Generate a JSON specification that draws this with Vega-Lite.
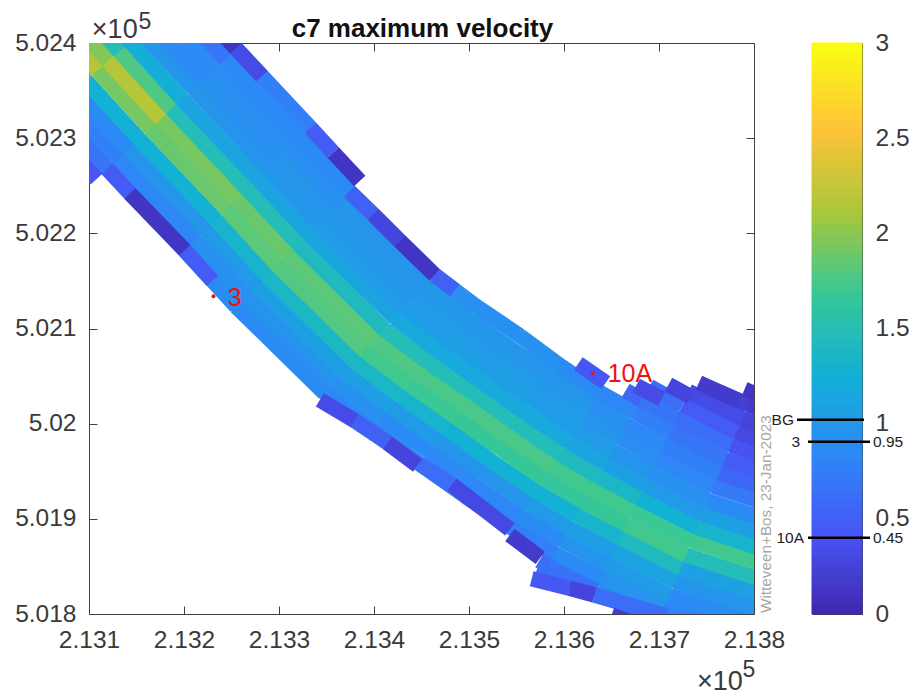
{"$schema":"https://vega.github.io/schema/vega-lite/v6.json","background":"white","padding":{"left":14,"top":10,"right":0,"bottom":0},"bounds":"flush","spacing":58,"config":{"font":"Liberation Sans","view":{"stroke":"#404040","strokeWidth":1},"axis":{"grid":false,"domain":false,"labelColor":"#3a3a3a","labelFontSize":24.5,"labelFont":"Liberation Sans","tickColor":"#404040","title":null,"labelFlush":false,"labelOverlap":false}},"datasets":{"cells":[
{"x":213050,"y":502415,"xe":213097,"ye":502360,"v":1.6},{"x":213062,"y":502426,"xe":213109,"ye":502371,"v":2.2},{"x":213073,"y":502436,"xe":213120,"ye":502381,"v":2.0},{"x":213085,"y":502446,"xe":213132,"ye":502391,"v":1.5},{"x":213096,"y":502457,"xe":213143,"ye":502402,"v":1.15},
{"x":213063,"y":502329,"xe":213119,"ye":502268,"v":0.7},{"x":213074,"y":502340,"xe":213131,"ye":502278,"v":0.8},{"x":213086,"y":502350,"xe":213142,"ye":502289,"v":0.9},{"x":213097,"y":502360,"xe":213153,"ye":502299,"v":1.3},{"x":213109,"y":502371,"xe":213165,"ye":502310,"v":1.95},{"x":213120,"y":502381,"xe":213176,"ye":502320,"v":2.2},{"x":213132,"y":502391,"xe":213187,"ye":502331,"v":1.8},{"x":213143,"y":502402,"xe":213198,"ye":502341,"v":1.25},{"x":213155,"y":502412,"xe":213210,"ye":502352,"v":1.0},{"x":213166,"y":502422,"xe":213221,"ye":502362,"v":0.9},{"x":213178,"y":502433,"xe":213232,"ye":502373,"v":0.88},{"x":213189,"y":502443,"xe":213244,"ye":502383,"v":0.72},{"x":213201,"y":502453,"xe":213255,"ye":502394,"v":0.15},
{"x":213119,"y":502268,"xe":213201,"ye":502182,"v":0.85},{"x":213131,"y":502278,"xe":213212,"ye":502192,"v":0.85},{"x":213142,"y":502289,"xe":213223,"ye":502203,"v":1.0},{"x":213153,"y":502299,"xe":213234,"ye":502214,"v":1.3},{"x":213165,"y":502310,"xe":213245,"ye":502225,"v":1.9},{"x":213176,"y":502320,"xe":213256,"ye":502236,"v":1.95},{"x":213187,"y":502331,"xe":213267,"ye":502246,"v":1.5},{"x":213198,"y":502341,"xe":213278,"ye":502257,"v":1.15},{"x":213210,"y":502352,"xe":213289,"ye":502268,"v":1.0},{"x":213221,"y":502362,"xe":213300,"ye":502279,"v":0.95},{"x":213232,"y":502373,"xe":213311,"ye":502290,"v":0.92},{"x":213244,"y":502383,"xe":213322,"ye":502300,"v":0.88},{"x":213255,"y":502394,"xe":213333,"ye":502311,"v":0.8},
{"x":213201,"y":502182,"xe":213255,"ye":502123,"v":0.9},{"x":213212,"y":502192,"xe":213266,"ye":502134,"v":0.95},{"x":213223,"y":502203,"xe":213277,"ye":502145,"v":1.05},{"x":213234,"y":502214,"xe":213287,"ye":502156,"v":1.35},{"x":213245,"y":502225,"xe":213298,"ye":502167,"v":1.85},{"x":213256,"y":502236,"xe":213309,"ye":502178,"v":1.9},{"x":213267,"y":502246,"xe":213320,"ye":502189,"v":1.5},{"x":213278,"y":502257,"xe":213331,"ye":502200,"v":1.15},{"x":213289,"y":502268,"xe":213341,"ye":502211,"v":1.02},{"x":213300,"y":502279,"xe":213352,"ye":502222,"v":1.0},{"x":213311,"y":502290,"xe":213363,"ye":502233,"v":0.95},{"x":213322,"y":502300,"xe":213374,"ye":502244,"v":0.9},
{"x":213255,"y":502123,"xe":213348,"ye":502032,"v":0.9},{"x":213266,"y":502134,"xe":213359,"ye":502043,"v":0.98},{"x":213277,"y":502145,"xe":213369,"ye":502054,"v":1.1},{"x":213287,"y":502156,"xe":213380,"ye":502065,"v":1.4},{"x":213298,"y":502167,"xe":213390,"ye":502077,"v":1.82},{"x":213309,"y":502178,"xe":213401,"ye":502088,"v":1.85},{"x":213320,"y":502189,"xe":213411,"ye":502099,"v":1.45},{"x":213331,"y":502200,"xe":213422,"ye":502111,"v":1.15},{"x":213341,"y":502211,"xe":213432,"ye":502122,"v":1.05},{"x":213352,"y":502222,"xe":213443,"ye":502133,"v":1.02},{"x":213363,"y":502233,"xe":213453,"ye":502145,"v":1.0},{"x":213374,"y":502244,"xe":213464,"ye":502156,"v":0.9},
{"x":213348,"y":502032,"xe":213398,"ye":501994,"v":0.85},{"x":213359,"y":502043,"xe":213408,"ye":502006,"v":0.95},{"x":213369,"y":502054,"xe":213418,"ye":502017,"v":1.1},{"x":213380,"y":502065,"xe":213428,"ye":502029,"v":1.4},{"x":213390,"y":502077,"xe":213438,"ye":502041,"v":1.75},{"x":213401,"y":502088,"xe":213448,"ye":502052,"v":1.8},{"x":213411,"y":502099,"xe":213458,"ye":502064,"v":1.5},{"x":213422,"y":502111,"xe":213468,"ye":502076,"v":1.2},{"x":213432,"y":502122,"xe":213478,"ye":502088,"v":1.08},{"x":213443,"y":502133,"xe":213488,"ye":502099,"v":1.05},{"x":213453,"y":502145,"xe":213498,"ye":502111,"v":1.02},{"x":213464,"y":502156,"xe":213508,"ye":502123,"v":0.95},
{"x":213398,"y":501994,"xe":213448,"ye":501958,"v":0.8},{"x":213408,"y":502006,"xe":213458,"ye":501971,"v":0.9},{"x":213418,"y":502017,"xe":213467,"ye":501983,"v":1.05},{"x":213428,"y":502029,"xe":213477,"ye":501995,"v":1.35},{"x":213438,"y":502041,"xe":213486,"ye":502007,"v":1.72},{"x":213448,"y":502052,"xe":213496,"ye":502019,"v":1.78},{"x":213458,"y":502064,"xe":213506,"ye":502031,"v":1.5},{"x":213468,"y":502076,"xe":213515,"ye":502043,"v":1.2},{"x":213478,"y":502088,"xe":213525,"ye":502055,"v":1.1},{"x":213488,"y":502099,"xe":213534,"ye":502067,"v":1.05},{"x":213498,"y":502111,"xe":213544,"ye":502079,"v":1.02},{"x":213508,"y":502123,"xe":213554,"ye":502092,"v":0.95},
{"x":213448,"y":501958,"xe":213496,"ye":501924,"v":0.8},{"x":213458,"y":501971,"xe":213505,"ye":501936,"v":0.88},{"x":213467,"y":501983,"xe":213514,"ye":501949,"v":1.0},{"x":213477,"y":501995,"xe":213523,"ye":501961,"v":1.3},{"x":213486,"y":502007,"xe":213533,"ye":501974,"v":1.7},{"x":213496,"y":502019,"xe":213542,"ye":501986,"v":1.78},{"x":213506,"y":502031,"xe":213551,"ye":501999,"v":1.5},{"x":213515,"y":502043,"xe":213560,"ye":502011,"v":1.2},{"x":213525,"y":502055,"xe":213569,"ye":502024,"v":1.1},{"x":213534,"y":502067,"xe":213578,"ye":502036,"v":1.05},{"x":213544,"y":502079,"xe":213587,"ye":502049,"v":1.0},{"x":213554,"y":502092,"xe":213596,"ye":502061,"v":0.95},
{"x":213496,"y":501924,"xe":213544,"ye":501891,"v":0.78},{"x":213505,"y":501936,"xe":213553,"ye":501903,"v":0.85},{"x":213514,"y":501949,"xe":213562,"ye":501916,"v":1.0},{"x":213523,"y":501961,"xe":213570,"ye":501929,"v":1.3},{"x":213533,"y":501974,"xe":213579,"ye":501942,"v":1.7},{"x":213542,"y":501986,"xe":213587,"ye":501955,"v":1.78},{"x":213551,"y":501999,"xe":213596,"ye":501968,"v":1.5},{"x":213560,"y":502011,"xe":213605,"ye":501981,"v":1.2},{"x":213569,"y":502024,"xe":213613,"ye":501994,"v":1.08},{"x":213578,"y":502036,"xe":213622,"ye":502007,"v":1.05},{"x":213587,"y":502049,"xe":213630,"ye":502020,"v":1.0},{"x":213596,"y":502061,"xe":213639,"ye":502032,"v":0.9},
{"x":213544,"y":501891,"xe":213591,"ye":501863,"v":0.8},{"x":213553,"y":501903,"xe":213599,"ye":501877,"v":0.9},{"x":213562,"y":501916,"xe":213606,"ye":501890,"v":1.05},{"x":213570,"y":501929,"xe":213614,"ye":501904,"v":1.3},{"x":213579,"y":501942,"xe":213622,"ye":501917,"v":1.68},{"x":213587,"y":501955,"xe":213629,"ye":501931,"v":1.75},{"x":213596,"y":501968,"xe":213637,"ye":501944,"v":1.45},{"x":213605,"y":501981,"xe":213644,"ye":501958,"v":1.15},{"x":213613,"y":501994,"xe":213652,"ye":501971,"v":1.05},{"x":213622,"y":502007,"xe":213660,"ye":501985,"v":1.0},{"x":213630,"y":502020,"xe":213667,"ye":501998,"v":0.95},{"x":213639,"y":502032,"xe":213675,"ye":502012,"v":0.85},
{"x":213591,"y":501863,"xe":213640,"ye":501838,"v":0.9},{"x":213599,"y":501877,"xe":213647,"ye":501852,"v":0.98},{"x":213606,"y":501890,"xe":213653,"ye":501866,"v":1.1},{"x":213614,"y":501904,"xe":213660,"ye":501880,"v":1.35},{"x":213622,"y":501917,"xe":213666,"ye":501894,"v":1.7},{"x":213629,"y":501931,"xe":213673,"ye":501908,"v":1.75},{"x":213637,"y":501944,"xe":213679,"ye":501922,"v":1.4},{"x":213644,"y":501958,"xe":213686,"ye":501936,"v":1.1},{"x":213652,"y":501971,"xe":213692,"ye":501950,"v":0.98},{"x":213660,"y":501985,"xe":213699,"ye":501964,"v":0.92},{"x":213667,"y":501998,"xe":213705,"ye":501978,"v":0.88},{"x":213675,"y":502012,"xe":213712,"ye":501992,"v":0.8},{"x":213682,"y":502025,"xe":213718,"ye":502006,"v":0.7},
{"x":213640,"y":501838,"xe":213705,"ye":501805,"v":0.98},{"x":213647,"y":501852,"xe":213711,"ye":501819,"v":1.05},{"x":213653,"y":501866,"xe":213717,"ye":501834,"v":1.15},{"x":213660,"y":501880,"xe":213723,"ye":501848,"v":1.45},{"x":213666,"y":501894,"xe":213729,"ye":501862,"v":1.75},{"x":213673,"y":501908,"xe":213735,"ye":501877,"v":1.72},{"x":213679,"y":501922,"xe":213740,"ye":501891,"v":1.3},{"x":213686,"y":501936,"xe":213746,"ye":501905,"v":1.05},{"x":213692,"y":501950,"xe":213752,"ye":501919,"v":0.95},{"x":213699,"y":501964,"xe":213758,"ye":501934,"v":0.85},{"x":213705,"y":501978,"xe":213764,"ye":501948,"v":0.8},{"x":213712,"y":501992,"xe":213770,"ye":501962,"v":0.72},{"x":213718,"y":502006,"xe":213776,"ye":501977,"v":0.65},
{"x":213705,"y":501805,"xe":213811,"ye":501770,"v":0.85},{"x":213711,"y":501819,"xe":213817,"ye":501785,"v":0.9},{"x":213717,"y":501834,"xe":213822,"ye":501799,"v":1.0},{"x":213723,"y":501848,"xe":213827,"ye":501814,"v":1.12},{"x":213729,"y":501862,"xe":213833,"ye":501828,"v":1.5},{"x":213735,"y":501877,"xe":213838,"ye":501843,"v":1.75},{"x":213740,"y":501891,"xe":213844,"ye":501857,"v":1.35},{"x":213746,"y":501905,"xe":213849,"ye":501872,"v":1.1},{"x":213752,"y":501919,"xe":213854,"ye":501886,"v":0.9},{"x":213758,"y":501934,"xe":213860,"ye":501901,"v":0.75},{"x":213764,"y":501948,"xe":213865,"ye":501915,"v":0.6},{"x":213770,"y":501962,"xe":213871,"ye":501930,"v":0.5},{"x":213776,"y":501977,"xe":213876,"ye":501944,"v":0.42},{"x":213782,"y":501991,"xe":213881,"ye":501959,"v":0.33},{"x":213788,"y":502005,"xe":213887,"ye":501973,"v":0.28},{"x":213794,"y":502020,"xe":213892,"ye":501988,"v":0.2}
],"patches":[
{"x":213665,"y":502035,"xe":213682,"ye":502025,"v":0.6},{"x":213690,"y":502039,"xe":213725,"ye":502020,"v":0.65},{"x":213725,"y":502020,"xe":213782,"ye":501991,"v":0.5},{"x":213731,"y":502034,"xe":213788,"ye":502005,"v":0.35},{"x":213764,"y":502033,"xe":213794,"ye":502020,"v":0.25},
{"x":213574,"y":501856,"xe":213584,"ye":501850,"v":0.65},{"x":213584,"y":501850,"xe":213634,"ye":501824,"v":0.72},{"x":213634,"y":501824,"xe":213699,"ye":501791,"v":0.9},{"x":213572,"y":501848,"xe":213634,"ye":501824,"v":0.68},{"x":213566,"y":501837,"xe":213606,"ye":501827,"v":0.48},{"x":213606,"y":501827,"xe":213632,"ye":501820,"v":0.3},{"x":213632,"y":501820,"xe":213708,"ye":501798,"v":0.65},{"x":213650,"y":501799,"xe":213680,"ye":501788,"v":0.22},
{"x":213051,"y":502319,"xe":213108,"ye":502257,"v":0.45},{"x":213119,"y":502268,"xe":213143,"ye":502242,"v":0.5},{"x":213143,"y":502242,"xe":213201,"ye":502182,"v":0.15},{"x":213201,"y":502182,"xe":213230,"ye":502150,"v":0.5},{"x":213255,"y":502394,"xe":213282,"ye":502365,"v":0.35},{"x":213333,"y":502311,"xe":213357,"ye":502285,"v":0.5},{"x":213357,"y":502285,"xe":213385,"ye":502255,"v":0.15},{"x":213374,"y":502244,"xe":213399,"ye":502220,"v":0.55},{"x":213399,"y":502220,"xe":213427,"ye":502192,"v":0.3},{"x":213427,"y":502192,"xe":213464,"ye":502156,"v":0.15},{"x":213464,"y":502156,"xe":213485,"ye":502140,"v":0.55},{"x":213343,"y":502025,"xe":213380,"ye":502003,"v":0.35},{"x":213380,"y":502003,"xe":213414,"ye":501980,"v":0.55},{"x":213414,"y":501980,"xe":213446,"ye":501956,"v":0.3},{"x":213448,"y":501958,"xe":213482,"ye":501936,"v":0.65},{"x":213482,"y":501936,"xe":213543,"ye":501889,"v":0.33},{"x":213543,"y":501883,"xe":213575,"ye":501859,"v":0.2},{"x":213615,"y":502063,"xe":213644,"ye":502043,"v":0.48},{"x":213676,"y":502040,"xe":213703,"ye":502026,"v":0.35},{"x":213710,"y":502041,"xe":213734,"ye":502028,"v":0.3},{"x":213742,"y":502043,"xe":213784,"ye":502024,"v":0.2},{"x":213790,"y":502036,"xe":213824,"ye":502022,"v":0.15}
],"bar":[{"lo":0,"hi":0.05},{"lo":0.05,"hi":0.1},{"lo":0.1,"hi":0.15},{"lo":0.15,"hi":0.2},{"lo":0.2,"hi":0.25},{"lo":0.25,"hi":0.3},{"lo":0.3,"hi":0.35},{"lo":0.35,"hi":0.4},{"lo":0.4,"hi":0.45},{"lo":0.45,"hi":0.5},{"lo":0.5,"hi":0.55},{"lo":0.55,"hi":0.6},{"lo":0.6,"hi":0.65},{"lo":0.65,"hi":0.7},{"lo":0.7,"hi":0.75},{"lo":0.75,"hi":0.8},{"lo":0.8,"hi":0.85},{"lo":0.85,"hi":0.9},{"lo":0.9,"hi":0.95},{"lo":0.95,"hi":1},{"lo":1,"hi":1.05},{"lo":1.05,"hi":1.1},{"lo":1.1,"hi":1.15},{"lo":1.15,"hi":1.2},{"lo":1.2,"hi":1.25},{"lo":1.25,"hi":1.3},{"lo":1.3,"hi":1.35},{"lo":1.35,"hi":1.4},{"lo":1.4,"hi":1.45},{"lo":1.45,"hi":1.5},{"lo":1.5,"hi":1.55},{"lo":1.55,"hi":1.6},{"lo":1.6,"hi":1.65},{"lo":1.65,"hi":1.7},{"lo":1.7,"hi":1.75},{"lo":1.75,"hi":1.8},{"lo":1.8,"hi":1.85},{"lo":1.85,"hi":1.9},{"lo":1.9,"hi":1.95},{"lo":1.95,"hi":2},{"lo":2,"hi":2.05},{"lo":2.05,"hi":2.1},{"lo":2.1,"hi":2.15},{"lo":2.15,"hi":2.2},{"lo":2.2,"hi":2.25},{"lo":2.25,"hi":2.3},{"lo":2.3,"hi":2.35},{"lo":2.35,"hi":2.4},{"lo":2.4,"hi":2.45},{"lo":2.45,"hi":2.5},{"lo":2.5,"hi":2.55},{"lo":2.55,"hi":2.6},{"lo":2.6,"hi":2.65},{"lo":2.65,"hi":2.7},{"lo":2.7,"hi":2.75},{"lo":2.75,"hi":2.8},{"lo":2.8,"hi":2.85},{"lo":2.85,"hi":2.9},{"lo":2.9,"hi":2.95},{"lo":2.95,"hi":3}]},
"hconcat":[{"width":665,"height":571,"layer":[
{"data":{"name":"cells"},"mark":{"type":"rule","strokeWidth":13,"strokeCap":"square","clip":true},"encoding":{"x":{"field":"x","type":"quantitative","scale":{"domain":[213100,213800],"nice":false,"zero":false},"axis":null},"x2":{"field":"xe"},"y":{"field":"y","type":"quantitative","scale":{"domain":[501800,502400],"nice":false,"zero":false},"axis":null},"y2":{"field":"ye"},"color":{"field":"v","type":"quantitative","scale":{"domain":[0,3],"interpolate":"rgb","range":["#3E26A8","#4852F4","#2E87F7","#12B1D6","#37C897","#ABC739","#FEC338","#F9FB14"]},"legend":null}}},
{"data":{"name":"cells"},"mark":{"type":"rule","strokeWidth":15.5,"strokeCap":"butt","clip":true},"encoding":{"x":{"field":"x","type":"quantitative","scale":{"domain":[213100,213800],"nice":false,"zero":false},"axis":{"values":[213100,213200,213300,213400,213500,213600,213700,213800],"labelExpr":"format(datum.value/100000,'.3~f')","tickSize":-8,"labelPadding":22,"orient":"bottom"}},"x2":{"field":"xe"},"y":{"field":"y","type":"quantitative","scale":{"domain":[501800,502400],"nice":false,"zero":false},"axis":{"values":[501800,501900,502000,502100,502200,502300,502400],"labelExpr":"format(datum.value/100000,'.3~f')","tickSize":-8,"labelPadding":21,"orient":"left"}},"y2":{"field":"ye"},"color":{"field":"v","type":"quantitative","scale":{"domain":[0,3],"interpolate":"rgb","range":["#3E26A8","#4852F4","#2E87F7","#12B1D6","#37C897","#ABC739","#FEC338","#F9FB14"]},"legend":null}}},
{"data":{"name":"patches"},"mark":{"type":"rule","strokeWidth":15.5,"strokeCap":"butt","clip":true},"encoding":{"x":{"field":"x","type":"quantitative","scale":{"domain":[213100,213800],"nice":false,"zero":false},"axis":null},"x2":{"field":"xe"},"y":{"field":"y","type":"quantitative","scale":{"domain":[501800,502400],"nice":false,"zero":false},"axis":null},"y2":{"field":"ye"},"color":{"field":"v","type":"quantitative","scale":{"domain":[0,3],"interpolate":"rgb","range":["#3E26A8","#4852F4","#2E87F7","#12B1D6","#37C897","#ABC739","#FEC338","#F9FB14"]},"legend":null}}},
{"data":{"values":[{"x":213231,"y":502134,"name":"3"},{"x":213630,"y":502053,"name":"10A"}]},"mark":{"type":"point","filled":true,"color":"#ee1111","size":16,"opacity":1},"encoding":{"x":{"field":"x","type":"quantitative","scale":{"domain":[213100,213800],"nice":false,"zero":false},"axis":{"orient":"top","values":[213100,213200,213300,213400,213500,213600,213700,213800],"labels":false,"tickSize":-8}},"y":{"field":"y","type":"quantitative","scale":{"domain":[501800,502400],"nice":false,"zero":false},"axis":{"orient":"right","values":[501800,501900,502000,502100,502200,502300,502400],"labels":false,"tickSize":-8}}}},
{"data":{"values":[{"x":213246,"y":502124,"t":"3","c":"red"},{"x":213646,"y":502044,"t":"10A","c":"red"}]},"mark":{"type":"text","align":"left","baseline":"alphabetic","fontSize":25,"font":"Liberation Sans"},"encoding":{"x":{"field":"x","type":"quantitative","scale":{"domain":[213100,213800],"nice":false,"zero":false},"axis":null},"y":{"field":"y","type":"quantitative","scale":{"domain":[501800,502400],"nice":false,"zero":false},"axis":null},"text":{"field":"t"},"color":{"field":"c","type":"nominal","scale":{"domain":["red","dark"],"range":["#ee1111","#3a3a3a"]},"legend":null}}},
{"data":{"values":[{"x":213103,"y":502405,"t":"×10"},{"x":213740,"y":501720,"t":"×10"}]},"mark":{"type":"text","align":"left","baseline":"alphabetic","fontSize":27,"font":"Liberation Sans","color":"#3a3a3a"},"encoding":{"x":{"field":"x","type":"quantitative","scale":{"domain":[213100,213800],"nice":false,"zero":false},"axis":null},"y":{"field":"y","type":"quantitative","scale":{"domain":[501800,502400],"nice":false,"zero":false},"axis":null},"text":{"field":"t"}}},
{"data":{"values":[{"x":213152,"y":502415,"t":"5"},{"x":213788,"y":501734,"t":"5"}]},"mark":{"type":"text","align":"left","baseline":"alphabetic","fontSize":23,"font":"Liberation Sans","color":"#3a3a3a"},"encoding":{"x":{"field":"x","type":"quantitative","scale":{"domain":[213100,213800],"nice":false,"zero":false},"axis":null},"y":{"field":"y","type":"quantitative","scale":{"domain":[501800,502400],"nice":false,"zero":false},"axis":null},"text":{"field":"t"}}},
{"data":{"values":[{"x":213451,"y":502406,"t":"c7 maximum velocity"}]},"mark":{"type":"text","align":"center","baseline":"alphabetic","fontSize":26,"fontWeight":"bold","font":"Liberation Sans","color":"#111111"},"encoding":{"x":{"field":"x","type":"quantitative","scale":{"domain":[213100,213800],"nice":false,"zero":false},"axis":null},"y":{"field":"y","type":"quantitative","scale":{"domain":[501800,502400],"nice":false,"zero":false},"axis":null},"text":{"field":"t"}}},
{"data":{"values":[{"x":213818,"y":501801,"t":"Witteveen+Bos, 23-Jan-2023"}]},"mark":{"type":"text","align":"left","baseline":"alphabetic","angle":270,"fontSize":15.3,"font":"Liberation Sans","color":"#a6a6a6"},"encoding":{"x":{"field":"x","type":"quantitative","scale":{"domain":[213100,213800],"nice":false,"zero":false},"axis":null},"y":{"field":"y","type":"quantitative","scale":{"domain":[501800,502400],"nice":false,"zero":false},"axis":null},"text":{"field":"t"}}}
],"resolve":{"axis":{"x":"independent","y":"independent"},"scale":{"color":"independent"}}},
{"width":50,"height":571,"layer":[
{"data":{"name":"bar"},"mark":{"type":"rect"},"encoding":{"x":{"datum":0,"type":"quantitative","scale":{"domain":[0,1],"nice":false,"zero":false},"axis":null},"x2":{"datum":1},"y":{"field":"lo","type":"quantitative","scale":{"domain":[0,3],"nice":false},"axis":{"orient":"right","values":[0,0.5,1,1.5,2,2.5,3],"labelExpr":"format(datum.value,'~g')","tickSize":-5,"labelPadding":18}},"y2":{"field":"hi"},"color":{"field":"hi","type":"quantitative","scale":{"domain":[0,3],"interpolate":"rgb","range":["#3E26A8","#4852F4","#2E87F7","#12B1D6","#37C897","#ABC739","#FEC338","#F9FB14"]},"legend":null},"stroke":{"field":"hi","type":"quantitative","scale":{"domain":[0,3],"interpolate":"rgb","range":["#3E26A8","#4852F4","#2E87F7","#12B1D6","#37C897","#ABC739","#FEC338","#F9FB14"]},"legend":null}}},
{"data":{"values":[{"name":"BG","val":1.02,"a":-0.3,"b":1.04},{"name":"3","val":0.905,"a":-0.08,"b":1.16},{"name":"10A","val":0.4,"a":-0.08,"b":1.16}]},"mark":{"type":"rule","color":"black","strokeWidth":2.5,"clip":false},"encoding":{"x":{"field":"a","type":"quantitative","scale":{"domain":[0,1],"nice":false,"zero":false},"axis":null},"x2":{"field":"b"},"y":{"field":"val","type":"quantitative","scale":{"domain":[0,3],"nice":false},"axis":null}}},
{"data":{"values":[{"t":"BG","val":1.02,"p":-0.36},{"t":"3","val":0.905,"p":-0.24},{"t":"10A","val":0.4,"p":-0.16}]},"mark":{"type":"text","align":"right","baseline":"middle","fontSize":15.5,"font":"Liberation Sans","color":"#222222"},"encoding":{"x":{"field":"p","type":"quantitative","scale":{"domain":[0,1],"nice":false,"zero":false},"axis":null},"y":{"field":"val","type":"quantitative","scale":{"domain":[0,3],"nice":false},"axis":null},"text":{"field":"t"}}},
{"data":{"values":[{"t":"0.95","val":0.905,"p":1.22},{"t":"0.45","val":0.4,"p":1.22}]},"mark":{"type":"text","align":"left","baseline":"middle","fontSize":15.5,"font":"Liberation Sans","color":"#222222"},"encoding":{"x":{"field":"p","type":"quantitative","scale":{"domain":[0,1],"nice":false,"zero":false},"axis":null},"y":{"field":"val","type":"quantitative","scale":{"domain":[0,3],"nice":false},"axis":null},"text":{"field":"t"}}}
],"resolve":{"axis":{"y":"independent","x":"independent"},"scale":{"color":"independent","stroke":"independent"}}}]}
